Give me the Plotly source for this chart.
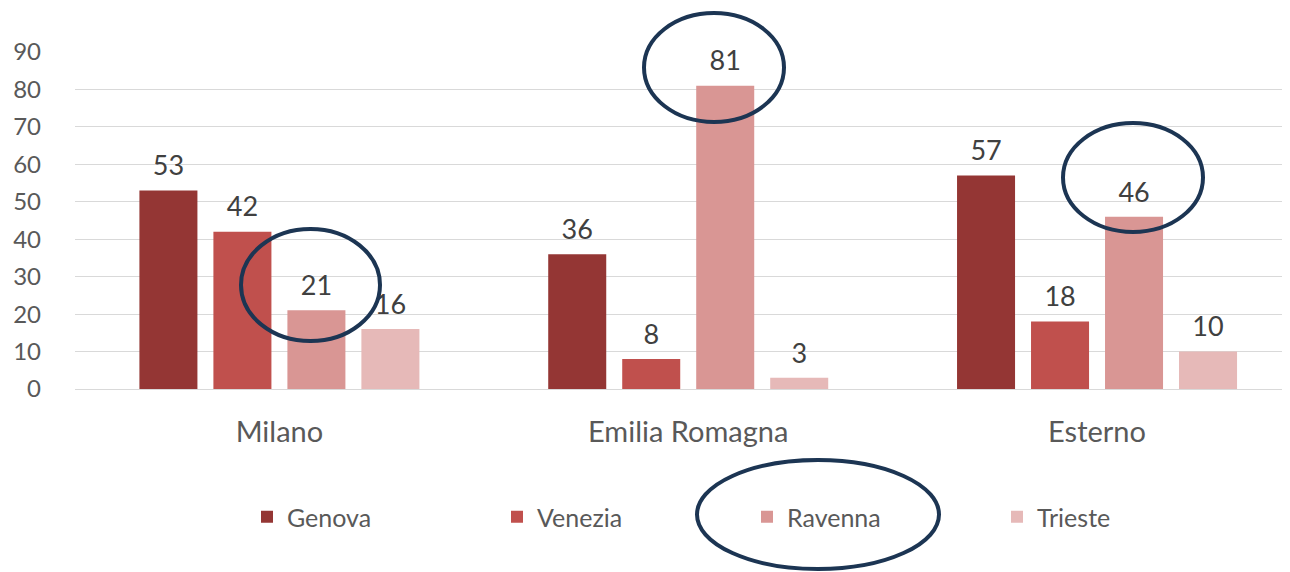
import plotly.graph_objects as go

categories = ["Milano", "Emilia Romagna", "Esterno"]
series_names = ["Genova", "Venezia", "Ravenna", "Trieste"]
genova = [53, 36, 57]
venezia = [42, 8, 18]
ravenna = [21, 81, 46]
trieste = [16, 3, 10]
values = [genova, venezia, ravenna, trieste]
colors = ["#943634", "#C0504D", "#D99694", "#E6B9B8"]
y_ticks = [0, 10, 20, 30, 40, 50, 60, 70, 80, 90]

# page body adds an 8px offset; design in reference pixel coordinates
OFF = 8
W, H = 1290 - OFF, 572 - OFF
L, R, T, B = 75 - OFF, 0, 52 - OFF, 572 - 389
FONT = "Lato, Open Sans, sans-serif"
GAP, GROUPGAP = 0.276, 0.216

fig = go.Figure()
for i, (name, vals, col) in enumerate(zip(series_names, values, colors)):
    fig.add_trace(go.Bar(
        x=categories, y=vals, name=name, offsetgroup=str(i),
        marker=dict(color=col, line=dict(width=0)),
        hoverinfo="x+y+name",
    ))
for i, (name, vals) in enumerate(zip(series_names, values)):
    fig.add_trace(go.Scatter(
        x=categories, y=vals, name=name, offsetgroup=str(i),
        mode="markers+text", text=[str(v) for v in vals],
        textposition="top center",
        textfont=dict(size=27, color="#404040", family=FONT),
        marker=dict(size=12, opacity=0, color="white"),
        showlegend=False, hoverinfo="skip", cliponaxis=False,
    ))

pw = W - L - R
ph = H - T - B

def px(x):
    return (x - OFF - L) / pw

def py(y):
    return (H - B - (y - OFF)) / ph

ellipses = [
    (241, 229, 380, 341),
    (644, 13, 784, 122),
    (1063, 123, 1203, 232),
    (697, 460, 939, 569),
]
shapes = []
for x0, y0, x1, y1 in ellipses:
    shapes.append(dict(type="circle", xref="paper", yref="paper",
                       x0=px(x0), x1=px(x1), y0=py(y1), y1=py(y0),
                       line=dict(color="#1C3553", width=4), layer="above"))

fig.update_layout(
    width=W, height=H,
    margin=dict(l=L, r=R, t=T, b=B, pad=0, autoexpand=False),
    paper_bgcolor="white", plot_bgcolor="white",
    barmode="group", bargap=GAP, bargroupgap=GROUPGAP,
    scattermode="group", scattergap=GAP,
    font=dict(family=FONT, color="#595959", size=20),
    xaxis=dict(range=[-0.5, 2.472], showgrid=False, zeroline=False,
               showline=False, ticks="", tickfont=dict(size=29, color="#595959"),
               ticklabelstandoff=23, automargin=False),
    yaxis=dict(range=[0, 90], tickvals=y_ticks, showgrid=True,
               gridcolor="#D9D9D9", gridwidth=1, zeroline=True,
               zerolinecolor="#D9D9D9", zerolinewidth=1, showline=False,
               ticks="", tickfont=dict(size=24, color="#595959"),
               ticklabelstandoff=33, automargin=False),
    legend=dict(orientation="h", x=px(247), xanchor="left", y=py(517),
                yanchor="middle", entrywidth=205, entrywidthmode="pixels",
                font=dict(size=25, color="#595959", family=FONT),
                itemwidth=30, traceorder="normal", bgcolor="rgba(0,0,0,0)"),
    shapes=shapes,
    showlegend=True,
)

fig.write_html("out.html")
